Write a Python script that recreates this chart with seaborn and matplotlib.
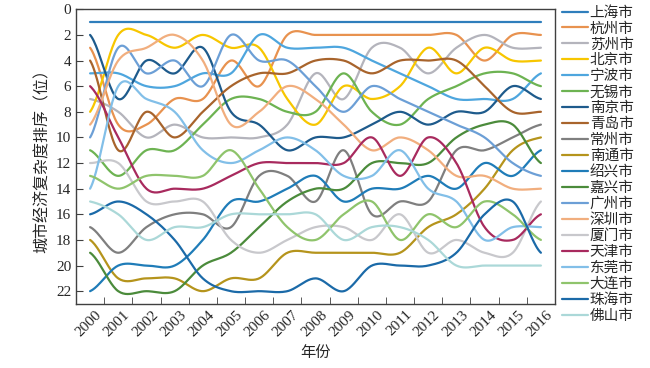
import numpy as np
import pandas as pd
import matplotlib
matplotlib.use("Agg")
import matplotlib.pyplot as plt
import matplotlib.transforms as mtransforms
import seaborn as sns

# years on the category axis
years = list(range(2000, 2017))

# city names (legend order = 2016 ranking)
cities = ["上海市", "杭州市", "苏州市", "北京市", "宁波市", "无锡市", "南京市",
          "青岛市", "常州市", "南通市", "绍兴市", "嘉兴市", "广州市", "深圳市",
          "厦门市", "天津市", "东莞市", "大连市", "珠海市", "佛山市"]

# rank of each city, 2000 -> 2016
shanghai = [1, 1, 1, 1, 1, 1, 1, 1, 1, 1, 1, 1, 1, 1, 1, 1, 1]
hangzhou = [3, 9, 9, 7, 7, 4, 6, 2, 2, 2, 2, 2, 2, 2, 4, 2, 2]
suzhou = [7, 8, 10, 9, 10, 10, 10, 9, 5, 7, 3, 3, 5, 3, 2, 3, 3]
beijing = [8, 2, 2, 3, 2, 3, 3, 7, 9, 6, 7, 6, 3, 5, 3, 4, 4]
ningbo = [5, 5, 6, 6, 5, 5, 2, 3, 3, 3, 4, 5, 6, 7, 7, 7, 5]
wuxi = [11, 13, 11, 11, 9, 7, 7, 8, 8, 5, 8, 9, 7, 6, 5, 5, 6]
nanjing = [2, 7, 4, 5, 3, 8, 9, 11, 10, 10, 9, 8, 9, 8, 8, 6, 7]
qingdao = [4, 11, 8, 10, 8, 6, 5, 5, 4, 4, 5, 4, 4, 4, 6, 8, 8]
changzhou = [17, 19, 17, 16, 16, 17, 13, 13, 15, 11, 16, 15, 15, 11, 11, 10, 9]
nantong = [18, 21, 21, 21, 22, 21, 21, 19, 19, 19, 19, 19, 17, 16, 14, 11, 10]
shaoxing = [22, 20, 20, 20, 18, 15, 15, 14, 13, 15, 14, 14, 13, 14, 12, 13, 11]
jiaxing = [19, 22, 22, 22, 20, 19, 17, 15, 14, 14, 12, 12, 12, 10, 9, 9, 12]
guangzhou = [10, 3, 5, 4, 6, 2, 4, 4, 6, 8, 6, 7, 8, 9, 10, 12, 13]
shenzhen = [9, 4, 3, 2, 4, 9, 8, 6, 7, 9, 11, 10, 11, 13, 13, 14, 14]
xiamen = [12, 12, 15, 15, 15, 18, 19, 18, 17, 17, 18, 16, 19, 18, 19, 19, 15]
tianjin = [6, 10, 14, 14, 14, 13, 12, 12, 12, 12, 10, 13, 10, 12, 17, 18, 16]
dongguan = [14, 6, 7, 8, 11, 12, 11, 10, 11, 13, 13, 11, 14, 15, 18, 17, 17]
dalian = [13, 14, 13, 13, 13, 11, 14, 17, 18, 16, 15, 18, 16, 17, 15, 16, 18]
zhuhai = [16, 15, 16, 18, 21, 22, 22, 22, 21, 22, 20, 20, 20, 19, 16, 15, 19]
foshan = [15, 16, 18, 17, 17, 16, 16, 16, 16, 18, 17, 17, 18, 20, 20, 20, 20]

ranks = [shanghai, hangzhou, suzhou, beijing, ningbo, wuxi, nanjing, qingdao,
         changzhou, nantong, shaoxing, jiaxing, guangzhou, shenzhen, xiamen,
         tianjin, dongguan, dalian, zhuhai, foshan]

colors = ["#2f7ebc", "#e8924f", "#b4b4bc", "#f7c600", "#4ea6de", "#6db352",
          "#1e5b8c", "#a8642c", "#7f7f7f", "#b5941c", "#1f7cb8", "#4b8b3b",
          "#6c9fd6", "#f1ae7e", "#c8c8cc", "#a82a5e", "#82bfe8", "#8fc46c",
          "#1b6aa8", "#abd8d8"]


def smooth(ys, n=24):
    # Catmull-Rom style curve through the yearly ranks (like a smoothed line chart)
    ys = np.asarray(ys, dtype=float)
    m = np.empty_like(ys)
    m[1:-1] = (ys[2:] - ys[:-2]) / 2
    m[0] = (ys[1] - ys[0]) / 2
    m[-1] = (ys[-1] - ys[-2]) / 2
    t = np.linspace(0, 1, n, endpoint=False)
    h00 = 2 * t**3 - 3 * t**2 + 1
    h10 = t**3 - 2 * t**2 + t
    h01 = -2 * t**3 + 3 * t**2
    h11 = t**3 - t**2
    xs_out, ys_out = [], []
    for i in range(len(ys) - 1):
        xs_out.append(i + t)
        ys_out.append(h00 * ys[i] + h10 * m[i] + h01 * ys[i + 1] + h11 * m[i + 1])
    xs_out.append([len(ys) - 1])
    ys_out.append([ys[-1]])
    return np.concatenate(xs_out), np.concatenate(ys_out)


frames = []
for name, r in zip(cities, ranks):
    sx, sy = smooth(r)
    frames.append(pd.DataFrame({"x": sx, "rank": sy, "city": name}))
df = pd.concat(frames, ignore_index=True)

sns.set_style("ticks")
plt.rcParams["font.family"] = ["Liberation Serif", "Noto Sans CJK SC"]
plt.rcParams["axes.unicode_minus"] = False

fig = plt.figure(figsize=(6.5, 3.68), dpi=100)
ax = fig.add_axes([76 / 650, 1 - 304 / 368, (555 - 76) / 650, (304 - 9.3) / 368])

sns.lineplot(data=df, x="x", y="rank", hue="city", hue_order=cities,
             palette=colors, estimator=None, sort=False, linewidth=1.6, ax=ax)

ax.set_xlim(-0.5, len(years) - 0.5)
ax.set_ylim(23, 0)
ax.set_yticks(range(0, 23, 2))
ax.set_xticks(np.arange(len(years)))
ax.set_xticklabels([str(y) for y in years], rotation=45, ha="right",
                   rotation_mode="anchor", fontsize=11)
ax.set_xticks(np.arange(len(years) - 1) + 0.5, minor=True)
ax.tick_params(axis="x", which="major", length=0, pad=3)
ax.tick_params(axis="x", which="minor", direction="in", length=5, color="#404040")
ax.tick_params(axis="y", direction="in", length=5, color="#404040", labelsize=11)
shift = mtransforms.ScaledTranslation(5 / 100, 0, fig.dpi_scale_trans)
for lab in ax.get_xticklabels():
    lab.set_transform(lab.get_transform() + shift)
for s in ax.spines.values():
    s.set_color("#404040")
    s.set_linewidth(1.0)

ax.set_xlabel("年份", fontsize=11, labelpad=5)
ax.set_ylabel("城市经济复杂度排序（位）", fontsize=11.5, labelpad=4)

handles, labels = ax.get_legend_handles_labels()
ax.legend(handles, labels, loc="upper left", bbox_to_anchor=(562 / 650, 1 - 6 / 368),
          bbox_transform=fig.transFigure, frameon=False, fontsize=10.5,
          handlelength=1.75, handletextpad=0.15, labelspacing=0.165,
          borderpad=0, borderaxespad=0)

fig.savefig("out.png", dpi=100)
